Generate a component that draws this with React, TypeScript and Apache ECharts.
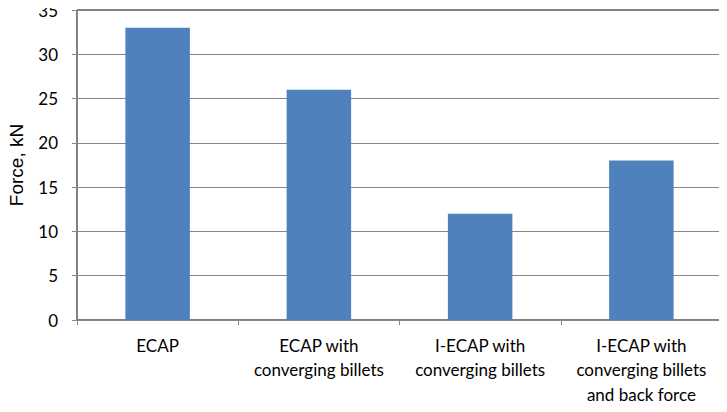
import React, { useEffect, useRef } from "react";
import * as echarts from "echarts";

const categories = [
  "ECAP",
  "ECAP with\nconverging billets",
  "I-ECAP with\nconverging billets",
  "I-ECAP with\nconverging billets\nand back force",
];
const forceValues = [33, 26, 12, 18];
const yTicks = { min: 0, max: 35, interval: 5 };

export default function App() {
  const ref = useRef<HTMLDivElement>(null);
  useEffect(() => {
    if (!ref.current) return;
    const chart = echarts.init(ref.current, undefined, { renderer: "svg" });
    const font = "Lato, 'Open Sans', sans-serif";
    chart.setOption({
      animation: false,
      backgroundColor: "#ffffff",
      grid: {
        left: 77,
        right: 5,
        top: 10,
        bottom: 92,
        containLabel: false,
        outerBoundsMode: "none",
        show: true,
        borderColor: "#000000",
        borderWidth: 1,
        backgroundColor: "transparent",
      },
      xAxis: {
        type: "category",
        data: categories,
        axisLine: { show: true, lineStyle: { color: "#868686", width: 1 } },
        axisTick: { show: true, alignWithLabel: false, length: 5, inside: false, lineStyle: { color: "#868686" } },
        axisLabel: {
          color: "#000000",
          fontFamily: font,
          fontSize: 17,
          lineHeight: 24.5,
          margin: 13,
          interval: 0,
        },
      },
      yAxis: {
        type: "value",
        min: yTicks.min,
        max: yTicks.max,
        interval: yTicks.interval,
        name: "Force, kN",
        nameLocation: "middle",
        nameGap: 51,
        nameMoveOverlap: false,
        nameTextStyle: { color: "#000000", fontFamily: "'Liberation Sans', Arial, sans-serif", fontSize: 19 },
        axisLine: { show: true, lineStyle: { color: "#868686", width: 1 } },
        axisTick: { show: true, length: 5, lineStyle: { color: "#868686" } },
        axisLabel: { color: "#000000", fontFamily: font, fontSize: 17, margin: 19 },
        splitLine: { show: true, lineStyle: { color: "#868686", width: 1 } },
      },
      series: [
        {
          type: "bar",
          data: forceValues,
          barWidth: "40%",
          itemStyle: { color: "#4F81BD" },
        },
      ],
    });
    return () => chart.dispose();
  }, []);
  return <div ref={ref} style={{ width: 727, height: 412, margin: -8 }} />;
}
